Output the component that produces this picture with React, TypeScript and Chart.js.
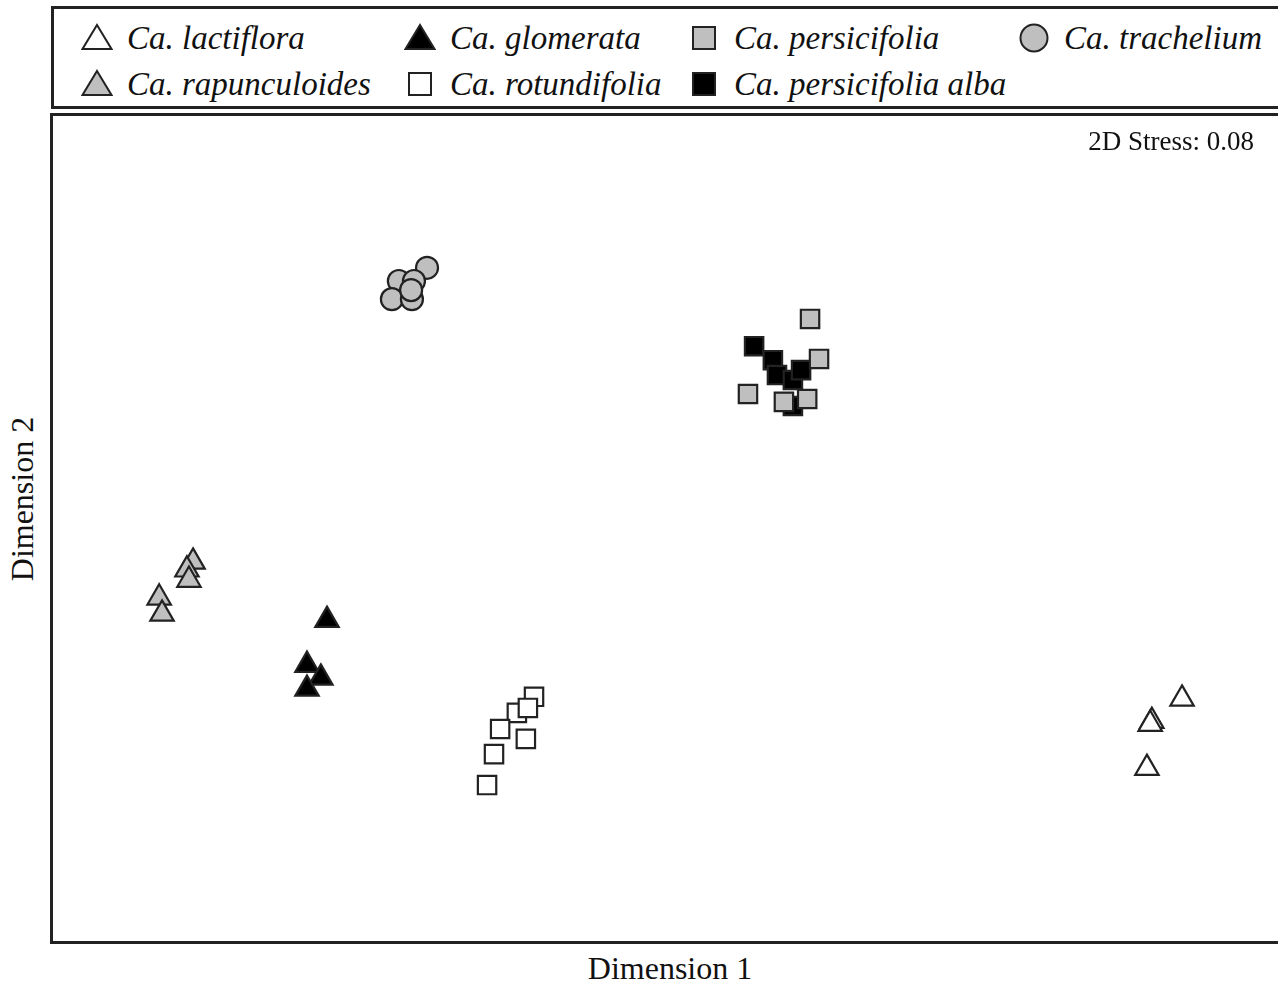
import React, { useEffect, useRef } from "react";
import { Chart, registerables } from "chart.js";

Chart.register(...registerables);

// MDS coordinates (Dimension 1, Dimension 2)
const lactifloraX = [1.265, 1.191, 1.187, 1.179];
const lactifloraY = [-0.413, -0.467, -0.474, -0.581];

const glomerataX = [-0.829, -0.878, -0.844, -0.878];
const glomerataY = [-0.222, -0.331, -0.362, -0.389];

const persicifoliaX = [0.354, 0.376, 0.202, 0.29, 0.347];
const persicifoliaY = [0.508, 0.411, 0.326, 0.307, 0.314];

const tracheliumX = [-0.584, -0.653, -0.616, -0.67, -0.621, -0.623];
const tracheliumY = [0.632, 0.6, 0.6, 0.556, 0.556, 0.578];

const rapunculoidesX = [-1.157, -1.172, -1.167, -1.24, -1.233];
const rapunculoidesY = [-0.081, -0.1, -0.125, -0.168, -0.207];

const rotundifoliaX = [-0.322, -0.364, -0.337, -0.405, -0.342, -0.42, -0.437];
const rotundifoliaY = [-0.408, -0.447, -0.435, -0.486, -0.51, -0.547, -0.622];

const albaX = [0.217, 0.263, 0.273, 0.312, 0.332, 0.312];
const albaY = [0.442, 0.408, 0.372, 0.36, 0.384, 0.297];

const xRange = [-1.5, 1.5];
const yRange = [-1, 1];
const stressLabel = "2D Stress: 0.08";
const xTitle = "Dimension 1";
const yTitle = "Dimension 2";

const GRAY = "#bfbfbf";
const EDGE = "#222222";

type Series = {
  name: string;
  xs: number[];
  ys: number[];
  shape: "triangle" | "rect" | "circle";
  fill: string;
  radius: number;
};

const series: Series[] = [
  { name: "Ca. lactiflora", xs: lactifloraX, ys: lactifloraY, shape: "triangle", fill: "#ffffff", radius: 13.5 },
  { name: "Ca. glomerata", xs: glomerataX, ys: glomerataY, shape: "triangle", fill: "#000000", radius: 13.5 },
  { name: "Ca. persicifolia", xs: persicifoliaX, ys: persicifoliaY, shape: "rect", fill: GRAY, radius: 13 },
  { name: "Ca. trachelium", xs: tracheliumX, ys: tracheliumY, shape: "circle", fill: GRAY, radius: 11 },
  { name: "Ca. rapunculoides", xs: rapunculoidesX, ys: rapunculoidesY, shape: "triangle", fill: GRAY, radius: 13.5 },
  { name: "Ca. rotundifolia", xs: rotundifoliaX, ys: rotundifoliaY, shape: "rect", fill: "#ffffff", radius: 13 },
  { name: "Ca. persicifolia alba", xs: albaX, ys: albaY, shape: "rect", fill: "#000000", radius: 13 },
];

const legendPos = [
  { cx: 97, cy: 38 },
  { cx: 420, cy: 38 },
  { cx: 704, cy: 38 },
  { cx: 1034, cy: 38 },
  { cx: 97, cy: 84 },
  { cx: 420, cy: 84 },
  { cx: 704, cy: 84 },
];

function LegendMarker({ s }: { s: Series }) {
  const stroke = EDGE;
  if (s.shape === "triangle") {
    return (
      <svg width={32} height={28} style={{ display: "block" }}>
        <polygon points="16,2 30.5,26 1.5,26" fill={s.fill} stroke={stroke} strokeWidth={2} strokeLinejoin="miter" />
      </svg>
    );
  }
  if (s.shape === "rect") {
    return (
      <svg width={26} height={26} style={{ display: "block" }}>
        <rect x={2} y={2} width={22} height={22} fill={s.fill} stroke={stroke} strokeWidth={2} />
      </svg>
    );
  }
  return (
    <svg width={30} height={30} style={{ display: "block" }}>
      <circle cx={15} cy={15} r={13.5} fill={s.fill} stroke={stroke} strokeWidth={2} />
    </svg>
  );
}

const frameBorder = {
  id: "frameBorder",
  afterDraw(chart: any) {
    const { ctx, chartArea } = chart;
    ctx.save();
    ctx.strokeStyle = EDGE;
    ctx.lineWidth = 3;
    ctx.beginPath();
    ctx.moveTo(chartArea.right + 10, chartArea.top - 1.5);
    ctx.lineTo(chartArea.left - 1.5, chartArea.top - 1.5);
    ctx.lineTo(chartArea.left - 1.5, chartArea.bottom + 1.5);
    ctx.lineTo(chartArea.right + 10, chartArea.bottom + 1.5);
    ctx.stroke();
    ctx.restore();
  },
};

export default function App() {
  const canvasRef = useRef<HTMLCanvasElement | null>(null);

  useEffect(() => {
    document.body.style.margin = "0";
    document.body.style.overflow = "hidden";
    const canvas = canvasRef.current;
    if (!canvas) return;
    const chart = new Chart(canvas, {
      type: "scatter",
      data: {
        datasets: series.map((s) => ({
          label: s.name,
          data: s.xs.map((x, i) => ({ x, y: s.ys[i] })),
          pointStyle: s.shape,
          pointRadius: s.radius,
          pointHoverRadius: s.radius,
          backgroundColor: s.fill,
          borderColor: EDGE,
          borderWidth: 2.2,
          clip: false,
        })),
      },
      options: {
        responsive: false,
        animation: false,
        devicePixelRatio: 1,
        layout: { autoPadding: false, padding: { left: 3, top: 3, right: 0, bottom: 4 } },
        plugins: {
          legend: { display: false },
          tooltip: { enabled: false },
        },
        scales: {
          x: { type: "linear", min: xRange[0], max: xRange[1], display: false },
          y: { type: "linear", min: yRange[0], max: yRange[1], display: false },
        },
      },
      plugins: [frameBorder],
    });
    return () => chart.destroy();
  }, []);

  const serif = '"Liberation Serif", "Times New Roman", serif';

  return (
    <div
      style={{
        position: "fixed",
        left: 0,
        top: 0,
        width: 1278,
        height: 983,
        overflow: "hidden",
        background: "#ffffff",
        fontFamily: serif,
      }}
    >
      {/* Legend box */}
      <div
        style={{
          position: "absolute",
          left: 51,
          top: 6,
          width: 1300,
          height: 103,
          border: `3px solid ${EDGE}`,
          boxSizing: "border-box",
        }}
      />
      {series.map((s, i) => {
        const p = legendPos[i];
        return (
          <React.Fragment key={s.name}>
            <div
              style={{
                position: "absolute",
                left: p.cx - (s.shape === "triangle" ? 16 : s.shape === "rect" ? 13 : 15),
                top: p.cy - (s.shape === "triangle" ? 15 : s.shape === "rect" ? 13 : 15),
              }}
            >
              <LegendMarker s={s} />
            </div>
            <div
              style={{
                position: "absolute",
                left: p.cx + 30,
                top: p.cy - 22,
                height: 44,
                lineHeight: "44px",
                fontSize: 33,
                fontStyle: "italic",
                whiteSpace: "nowrap",
                color: "#111",
              }}
            >
              {s.name}
            </div>
          </React.Fragment>
        );
      })}

      <canvas
        ref={canvasRef}
        width={1228}
        height={832}
        style={{ position: "absolute", left: 50, top: 113, width: 1228, height: 832 }}
      />

      <div
        style={{
          position: "absolute",
          right: 24,
          top: 124,
          fontSize: 27,
          lineHeight: "34px",
          whiteSpace: "nowrap",
          color: "#111",
        }}
      >
        {stressLabel}
      </div>

      <div
        style={{
          position: "absolute",
          left: 470,
          width: 400,
          top: 948,
          textAlign: "center",
          fontSize: 32,
          lineHeight: "40px",
          color: "#111",
        }}
      >
        {xTitle}
      </div>
      <div
        style={{
          position: "absolute",
          left: 22 - 200,
          top: 499 - 20,
          width: 400,
          height: 40,
          lineHeight: "40px",
          textAlign: "center",
          fontSize: 32,
          transform: "rotate(-90deg)",
          color: "#111",
        }}
      >
        {yTitle}
      </div>
    </div>
  );
}
